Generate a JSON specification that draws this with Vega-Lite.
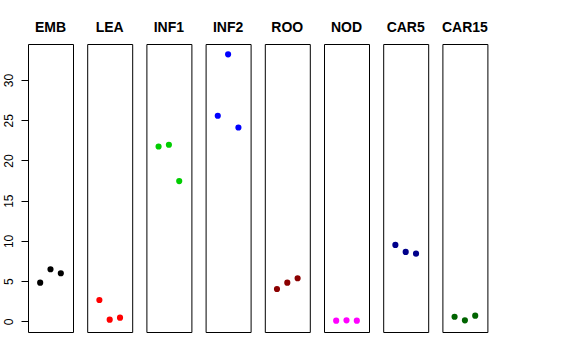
{
  "$schema": "https://vega.github.io/schema/vega-lite/v6.json",
  "background": "white",
  "padding": {"left": 1, "top": 20, "right": 5, "bottom": 5},
  "spacing": 12.2,
  "data": {"values": [
    {"panel": "EMB", "idx": 1, "value": 4.8},
    {"panel": "EMB", "idx": 2, "value": 6.47},
    {"panel": "EMB", "idx": 3, "value": 5.97},
    {"panel": "LEA", "idx": 1, "value": 2.65},
    {"panel": "LEA", "idx": 2, "value": 0.2},
    {"panel": "LEA", "idx": 3, "value": 0.45},
    {"panel": "INF1", "idx": 1, "value": 21.73},
    {"panel": "INF1", "idx": 2, "value": 21.95},
    {"panel": "INF1", "idx": 3, "value": 17.43},
    {"panel": "INF2", "idx": 1, "value": 25.56},
    {"panel": "INF2", "idx": 2, "value": 33.19},
    {"panel": "INF2", "idx": 3, "value": 24.1},
    {"panel": "ROO", "idx": 1, "value": 4.02},
    {"panel": "ROO", "idx": 2, "value": 4.8},
    {"panel": "ROO", "idx": 3, "value": 5.35},
    {"panel": "NOD", "idx": 1, "value": 0.08},
    {"panel": "NOD", "idx": 2, "value": 0.12},
    {"panel": "NOD", "idx": 3, "value": 0.08},
    {"panel": "CAR5", "idx": 1, "value": 9.5},
    {"panel": "CAR5", "idx": 2, "value": 8.63},
    {"panel": "CAR5", "idx": 3, "value": 8.42},
    {"panel": "CAR15", "idx": 1, "value": 0.57},
    {"panel": "CAR15", "idx": 2, "value": 0.12},
    {"panel": "CAR15", "idx": 3, "value": 0.7}
  ]},
  "config": {
    "view": {"stroke": "black", "strokeWidth": 1},
    "title": {"fontSize": 14, "fontWeight": "bold", "font": "Liberation Sans", "offset": 9, "baseline": "alphabetic", "color": "black", "anchor": "middle"},
    "circle": {"size": 38, "opacity": 1}
  },
  "hconcat": [
    {
      "title": "EMB", "width": 45, "height": 288,
      "transform": [{"filter": "datum.panel == 'EMB'"}],
      "mark": "circle",
      "encoding": {
        "x": {"field": "idx", "type": "quantitative", "scale": {"domain": [-0.18, 4.18]}, "axis": null},
        "y": {"field": "value", "type": "quantitative", "scale": {"domain": [-1.33, 34.48], "nice": false, "zero": false},
          "axis": {"values": [0, 5, 10, 15, 20, 25, 30], "labelAngle": 270, "tickSize": 7, "domain": false, "grid": false, "labelFontSize": 12, "labelFont": "Liberation Sans", "labelColor": "black", "tickColor": "black", "title": null, "labelPadding": 6}},
        "color": {"value": "black"}
      }
    },
    {
      "title": "LEA", "width": 45, "height": 288,
      "transform": [{"filter": "datum.panel == 'LEA'"}],
      "mark": "circle",
      "encoding": {
        "x": {"field": "idx", "type": "quantitative", "scale": {"domain": [-0.18, 4.18]}, "axis": null},
        "y": {"field": "value", "type": "quantitative", "scale": {"domain": [-1.33, 34.48], "nice": false, "zero": false}, "axis": null},
        "color": {"value": "#FF0000"}
      }
    },
    {
      "title": "INF1", "width": 45, "height": 288,
      "transform": [{"filter": "datum.panel == 'INF1'"}],
      "mark": "circle",
      "encoding": {
        "x": {"field": "idx", "type": "quantitative", "scale": {"domain": [-0.18, 4.18]}, "axis": null},
        "y": {"field": "value", "type": "quantitative", "scale": {"domain": [-1.33, 34.48], "nice": false, "zero": false}, "axis": null},
        "color": {"value": "#00CD00"}
      }
    },
    {
      "title": "INF2", "width": 45, "height": 288,
      "transform": [{"filter": "datum.panel == 'INF2'"}],
      "mark": "circle",
      "encoding": {
        "x": {"field": "idx", "type": "quantitative", "scale": {"domain": [-0.18, 4.18]}, "axis": null},
        "y": {"field": "value", "type": "quantitative", "scale": {"domain": [-1.33, 34.48], "nice": false, "zero": false}, "axis": null},
        "color": {"value": "#0000FF"}
      }
    },
    {
      "title": "ROO", "width": 45, "height": 288,
      "transform": [{"filter": "datum.panel == 'ROO'"}],
      "mark": "circle",
      "encoding": {
        "x": {"field": "idx", "type": "quantitative", "scale": {"domain": [-0.18, 4.18]}, "axis": null},
        "y": {"field": "value", "type": "quantitative", "scale": {"domain": [-1.33, 34.48], "nice": false, "zero": false}, "axis": null},
        "color": {"value": "#8B0000"}
      }
    },
    {
      "title": "NOD", "width": 45, "height": 288,
      "transform": [{"filter": "datum.panel == 'NOD'"}],
      "mark": "circle",
      "encoding": {
        "x": {"field": "idx", "type": "quantitative", "scale": {"domain": [-0.18, 4.18]}, "axis": null},
        "y": {"field": "value", "type": "quantitative", "scale": {"domain": [-1.33, 34.48], "nice": false, "zero": false}, "axis": null},
        "color": {"value": "#FF00FF"}
      }
    },
    {
      "title": "CAR5", "width": 45, "height": 288,
      "transform": [{"filter": "datum.panel == 'CAR5'"}],
      "mark": "circle",
      "encoding": {
        "x": {"field": "idx", "type": "quantitative", "scale": {"domain": [-0.18, 4.18]}, "axis": null},
        "y": {"field": "value", "type": "quantitative", "scale": {"domain": [-1.33, 34.48], "nice": false, "zero": false}, "axis": null},
        "color": {"value": "#00008B"}
      }
    },
    {
      "title": "CAR15", "width": 45, "height": 288,
      "transform": [{"filter": "datum.panel == 'CAR15'"}],
      "mark": "circle",
      "encoding": {
        "x": {"field": "idx", "type": "quantitative", "scale": {"domain": [-0.18, 4.18]}, "axis": null},
        "y": {"field": "value", "type": "quantitative", "scale": {"domain": [-1.33, 34.48], "nice": false, "zero": false}, "axis": null},
        "color": {"value": "#006400"}
      }
    }
  ]
}
